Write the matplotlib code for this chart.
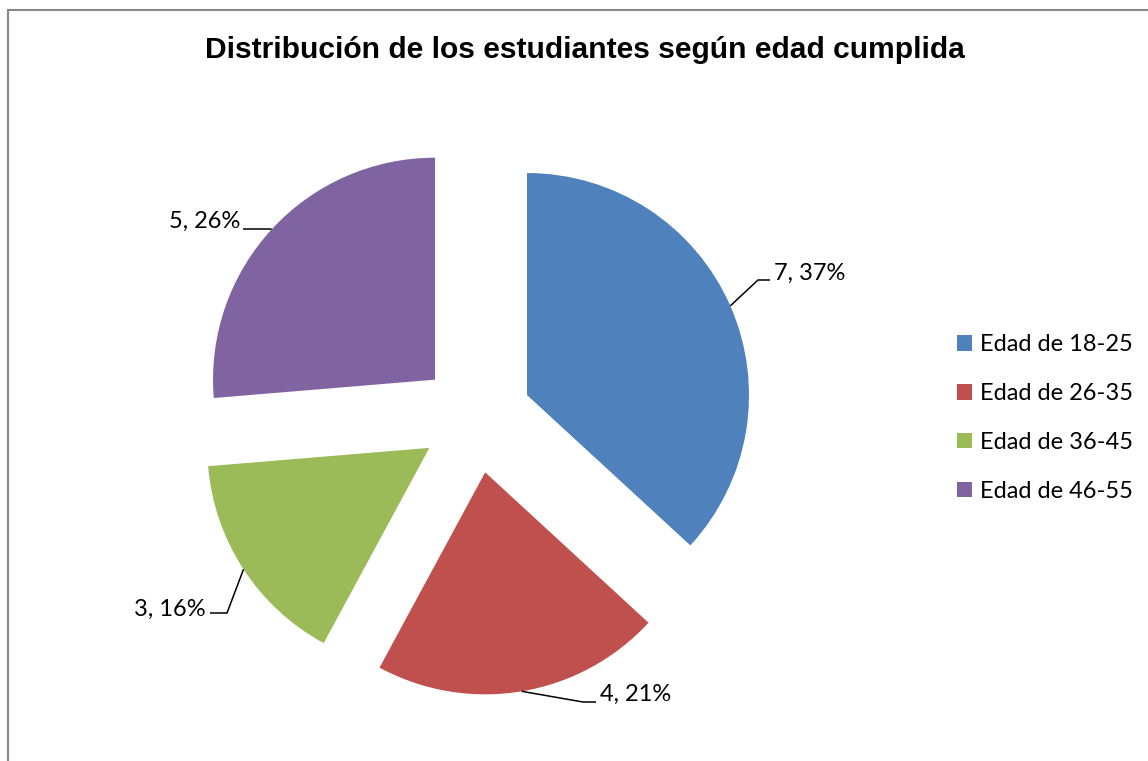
import matplotlib

matplotlib.use("Agg")
import matplotlib.pyplot as plt
import numpy as np
from matplotlib.lines import Line2D
from matplotlib.patches import Rectangle

# ---------------------------------------------------------------------------
# Data
# ---------------------------------------------------------------------------
CATEGORIES = ["Edad de 18-25", "Edad de 26-35", "Edad de 36-45", "Edad de 46-55"]
COUNTS = [7, 4, 3, 5]
COLORS = ["#4F81BD", "#C0504D", "#9BBB59", "#8064A2"]
TITLE = "Distribución de los estudiantes según edad cumplida"

# ---------------------------------------------------------------------------
# Layout (pixel coordinates, y measured from top)
# ---------------------------------------------------------------------------
W, H = 1148, 761
CENTER_PX = (476, 417.4)
RADIUS = 222
EXPLODE = 55.7

# elbow point, line end, text anchor, alignment for each slice label
LABEL_LAYOUT = [
    ((758, 280), (770, 280), (774, 273), "left"),
    ((583, 702), (596, 702), (600, 694), "left"),
    ((227, 613), (210, 613), (206, 609), "right"),
    ((270, 229), (243, 229), (240, 221), "right"),
]

LABEL_FONT = ["Lato", "DejaVu Sans"]
LABEL_SIZE = 17


def py(y):
    """Convert a top-based pixel y to the axes' bottom-based y."""
    return H - y


fig = plt.figure(figsize=(W / 100, H / 100), dpi=100)
ax = fig.add_axes([0, 0, 1, 1])

wedges, _ = ax.pie(
    COUNTS,
    colors=COLORS,
    startangle=90,
    counterclock=False,
    radius=RADIUS,
    center=(CENTER_PX[0], py(CENTER_PX[1])),
    explode=[EXPLODE] * len(COUNTS),
    wedgeprops={"linewidth": 0},
    frame=True,
)
ax.set_xlim(0, W)
ax.set_ylim(0, H)
ax.set_aspect("equal")
ax.axis("off")

# ── Data labels with leader lines ─────────────────────────────────────────
total = sum(COUNTS)
for wedge, count, (elbow, end, anchor, align) in zip(wedges, COUNTS, LABEL_LAYOUT):
    ang = np.deg2rad((wedge.theta1 + wedge.theta2) / 2)
    cx, cy = wedge.center
    sx = cx + wedge.r * np.cos(ang)
    sy = cy + wedge.r * np.sin(ang)
    ax.plot(
        [sx, elbow[0], end[0]],
        [sy, py(elbow[1]), py(end[1])],
        color="black",
        lw=1.1,
        solid_capstyle="butt",
    )
    ax.text(
        anchor[0],
        py(anchor[1]),
        f"{count}, {round(100 * count / total)}%",
        ha=align,
        va="center",
        fontsize=LABEL_SIZE,
        family=LABEL_FONT,
    )

# ── Title ─────────────────────────────────────────────────────────────────
ax.text(
    585,
    py(50),
    TITLE,
    ha="center",
    va="center",
    fontsize=21.6,
    fontweight="bold",
    family=["Liberation Sans", "DejaVu Sans"],
)

# ── Legend ────────────────────────────────────────────────────────────────
handles = [Rectangle((0, 0), 1, 1, facecolor=c, edgecolor="none") for c in COLORS]
ax.legend(
    handles,
    CATEGORIES,
    loc="center left",
    bbox_to_anchor=(957 / W, 1 - 418 / H),
    bbox_transform=fig.transFigure,
    frameon=False,
    prop={"family": LABEL_FONT, "size": LABEL_SIZE},
    handlelength=0.64,
    handleheight=0.64,
    handletextpad=0.35,
    labelspacing=1.18,
    borderaxespad=0,
    borderpad=0,
)

# ── Chart area border (top and left edges visible) ────────────────────────
border_kw = dict(color="#878787", lw=1.5, transform=ax.transData, clip_on=False)
ax.add_line(Line2D([8, 8], [py(10), 0], **border_kw))
ax.add_line(Line2D([8, W], [py(10), py(10)], **border_kw))

fig.savefig("out.png", dpi=100)
